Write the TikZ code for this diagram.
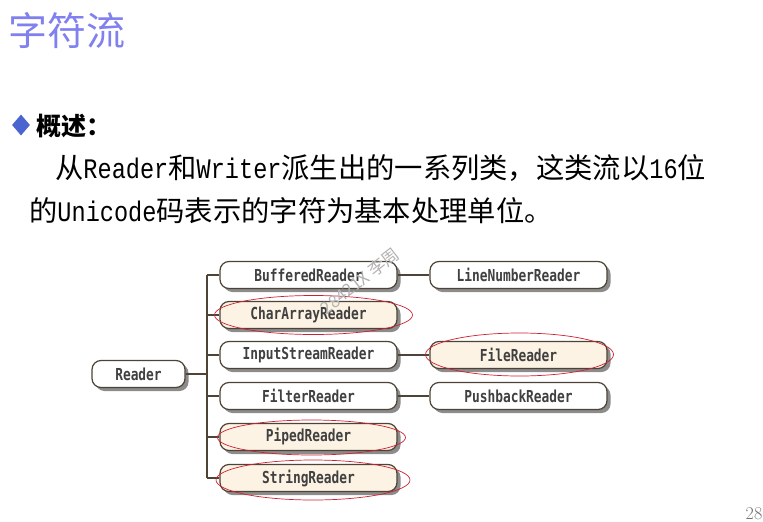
\documentclass[tikz,border=0pt]{standalone}
\usepackage{fontspec}
\usetikzlibrary{shadows,shapes.geometric}
\newfontfamily\cjk{Noto Sans CJK SC}
\newfontfamily\lat[FakeStretch=0.833]{Liberation Mono}
\newfontfamily\boxfont[FakeStretch=0.78]{DejaVu Sans Mono Bold}
\definecolor{titleblue}{HTML}{8080EE}
\definecolor{bulletblue}{HTML}{4A64D0}
\definecolor{boxline}{HTML}{4D4336}
\definecolor{cream}{HTML}{FCF3E4}
\definecolor{hlred}{HTML}{D02030}
\tikzset{
  cls/.style={draw=boxline, line width=1.2pt, rounded corners=9pt, fill=white,
    minimum width=177pt, minimum height=27pt, inner sep=0pt,
    font=\boxfont\fontsize{16.5}{18}\selectfont, text=black!75,
    drop shadow={shadow xshift=3.5pt, shadow yshift=-3.5pt, fill=black!45, opacity=1}},
  hl/.style={cls, fill=cream},
  conn/.style={draw=boxline, line width=1.2pt},
  redmark/.style={draw=hlred, line width=0.7pt}
}
\begin{document}
\begin{tikzpicture}[x=1pt,y=-1pt]
\useasboundingbox (0,0) rectangle (763,522);
% heading
\node[anchor=west, inner sep=0pt, text=titleblue, font=\cjk\fontsize{39}{42}\selectfont] (title) at (8,31) {字符流};
\node[diamond, fill=bulletblue, minimum width=18pt, minimum height=21pt, inner sep=0pt] (bullet) at (21,125) {};
\node[anchor=west, inner sep=0pt, font=\cjk\bfseries\fontsize{25}{28}\selectfont] (sec) at (36,126) {概述：};
\node[anchor=west, inner sep=0pt, font=\cjk\fontsize{28.3}{31}\selectfont] (l1) at (55,168)
  {从{\lat Reader}和{\lat Writer}派生出的一系列类，这类流以{\lat 16}位};
\node[anchor=west, inner sep=0pt, font=\cjk\fontsize{28.3}{31}\selectfont] (l2) at (29,211)
  {的{\lat Unicode}码表示的字符为基本处理单位。};
% diagram
\node[cls, minimum width=93pt] (reader) at (138.5,374) {Reader};
\node[cls] (buf) at (308.5,275) {BufferedReader};
\node[hl]  (car) at (308.5,315) {CharArrayReader};
\node[cls] (isr) at (308.5,355) {InputStreamReader};
\node[cls] (fil) at (308.5,396) {FilterReader};
\node[hl]  (pip) at (308.5,437) {PipedReader};
\node[hl]  (str) at (308.5,478) {StringReader};
\node[cls] (lnr) at (518.5,275) {LineNumberReader};
\node[hl]  (fr)  at (518.5,355) {FileReader};
\node[cls] (pbr) at (518.5,396) {PushbackReader};
\coordinate (trunk) at (207,374);
\coordinate (ttop) at (207,275);
\coordinate (tbot) at (207,478);
\draw[conn] (reader.east) -- (trunk);
\draw[conn] (ttop) -- (tbot);
\foreach \n in {buf,car,isr,fil,pip,str}{
  \draw[conn] (ttop |- \n.west) -- (\n.west);
}
\draw[conn] (buf.east) -- (lnr.west);
\draw[conn] (isr.east) -- (fr.west);
\draw[conn] (fil.east) -- (pbr.west);
% red marks
\draw[redmark] (313.5,315) ellipse [x radius=99, y radius=19.5];
\draw[redmark] (519.5,354.5) ellipse [x radius=94, y radius=21.5];
\draw[redmark] (311.5,437.5) ellipse [x radius=94, y radius=17.5];
\draw[redmark] (313,480) ellipse [x radius=97, y radius=20];
% watermark
\node[rotate=38, text=black!30, font=\cjk\fontsize{17}{19}\selectfont, inner sep=0pt] (wm) at (360,281) {28421X 李周};
% page number
\node[anchor=north, inner sep=0pt, text=black!55, font=\fontsize{18}{20}\selectfont] (pg) at (754,507) {28};
\end{tikzpicture}
\end{document}
